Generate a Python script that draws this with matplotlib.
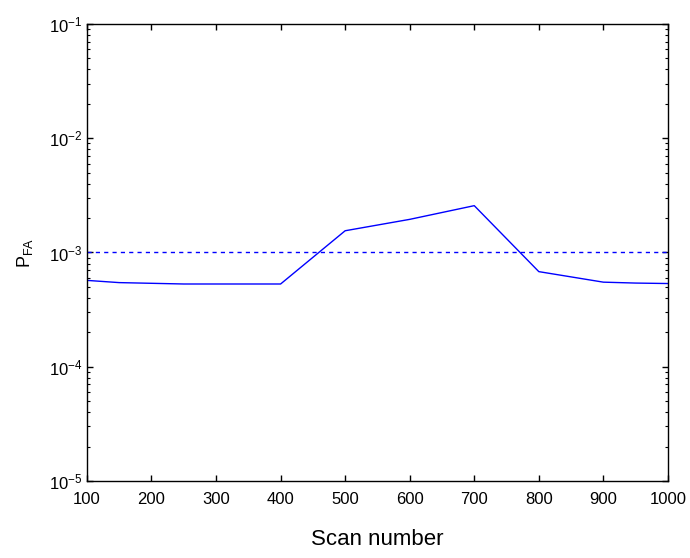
import numpy as np
import matplotlib
matplotlib.use("Agg")
import matplotlib.pyplot as plt
from matplotlib.ticker import LogLocator, NullFormatter

plt.rcParams['font.family'] = ['Liberation Sans', 'DejaVu Sans']
plt.rcParams['mathtext.fontset'] = 'custom'
plt.rcParams['mathtext.rm'] = 'Liberation Sans'
plt.rcParams['mathtext.default'] = 'regular'
plt.rcParams['axes.unicode_minus'] = False

# scan numbers and estimated false alarm probability
scan = [100, 150, 250, 400, 500, 600, 700, 800, 900, 950, 1000]
pfa = [5.7e-4, 5.45e-4, 5.3e-4, 5.3e-4, 1.55e-3, 1.95e-3, 2.57e-3,
       6.8e-4, 5.5e-4, 5.4e-4, 5.35e-4]
pfa_target = 1e-3
xticks = [100, 200, 300, 400, 500, 600, 700, 800, 900, 1000]

fig = plt.figure(figsize=(6.9, 5.58), dpi=100)
ax = fig.add_axes([0.126, 0.138, 0.842, 0.819])

ax.semilogy(scan, pfa, color='#0000ff', lw=1.0)
ax.axhline(pfa_target, color='#0000ff', lw=1.0, ls=(0, (3, 3)))

ax.set_xlim(100, 1000)
ax.set_ylim(1e-5, 1e-1)
ax.set_xticks(xticks)
ax.yaxis.set_major_locator(LogLocator(base=10, numticks=10))
ax.yaxis.set_minor_locator(LogLocator(base=10, subs=np.arange(2, 10), numticks=10))
ax.yaxis.set_minor_formatter(NullFormatter())

ax.tick_params(which='both', direction='in', top=True, right=True, labelsize=12)
ax.tick_params(which='major', length=4, width=1)
ax.tick_params(which='minor', length=2.5, width=0.8)
ax.tick_params(axis='x', pad=8)
for s in ax.spines.values():
    s.set_linewidth(1.0)

ax.set_xlabel('Scan number', fontsize=16, labelpad=16)
ax.set_ylabel('P$_{FA}$', fontsize=13, labelpad=10)

fig.savefig('out.png', dpi=100)
